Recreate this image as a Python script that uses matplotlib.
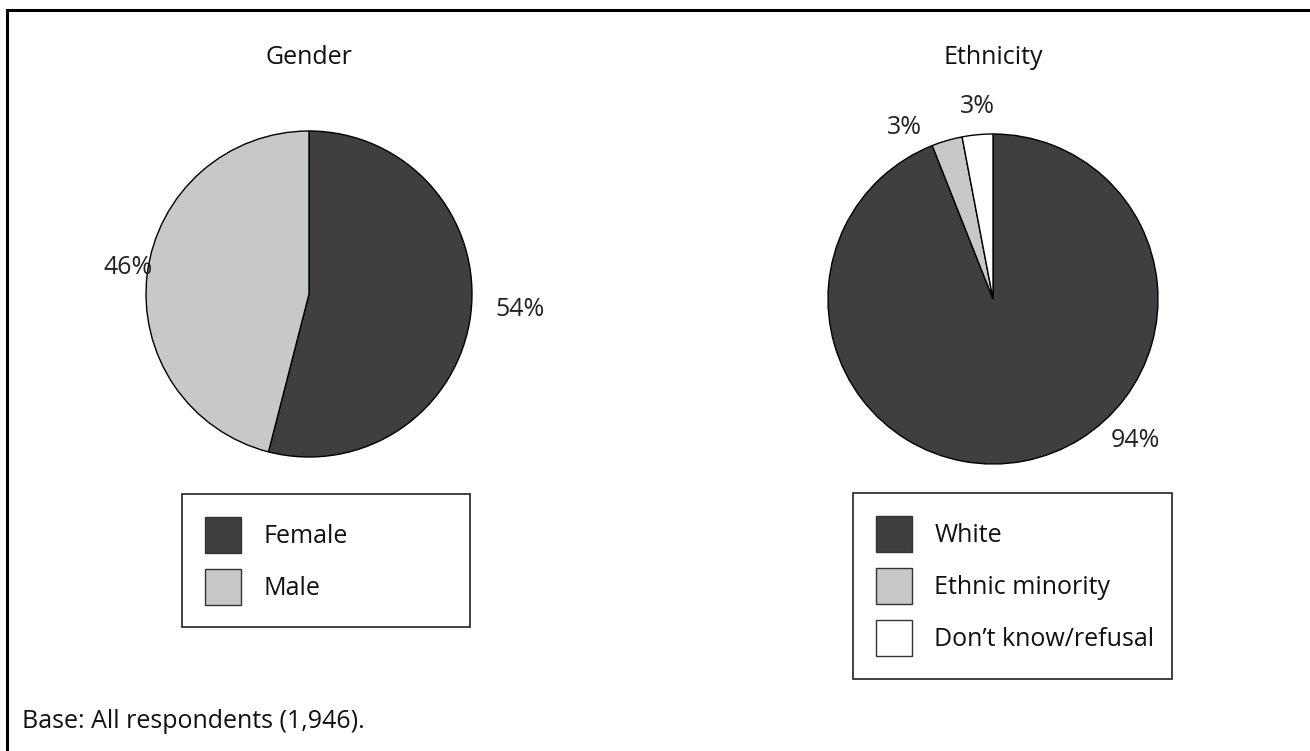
import numpy as np
import matplotlib
matplotlib.use("Agg")
import matplotlib.pyplot as plt
from matplotlib.patches import Rectangle

# survey breakdowns (percent of respondents)
gender_labels = ["Female", "Male"]
gender_values = [54, 46]
ethnicity_labels = ["White", "Ethnic minority", "Don\u2019t know/refusal"]
ethnicity_values = [94, 3, 3]

DARK = "#3f3f41"
LIGHT = "#c7c8ca"
gender_colors = [DARK, LIGHT]
ethnicity_colors = [DARK, LIGHT, "white"]

# where each percentage sits: (angle in degrees, distance in pie radii)
gender_label_pos = [(-4.3, 1.30), (171.8, 1.12)]
ethnicity_label_pos = [(-44.8, 1.22), (117.2, 1.17), (94.5, 1.17)]

plt.rcParams["font.family"] = ["Open Sans", "DejaVu Sans"]
FS = 18

W, H = 1310, 751
fig = plt.figure(figsize=(W / 100, H / 100), dpi=100)


def px_axes(cx, cy, r):
    return fig.add_axes([(cx - r) / W, (H - cy - r) / H, 2 * r / W, 2 * r / H])


def draw_pie(ax, values, colors, label_pos):
    wedges, _ = ax.pie(values, colors=colors, startangle=90, counterclock=False,
                       wedgeprops=dict(edgecolor="black", linewidth=1.0))
    for v, (ang, dist) in zip(values, label_pos):
        a = np.deg2rad(ang)
        ax.text(dist * np.cos(a), dist * np.sin(a), f"{v}%", ha="center",
                va="center", fontsize=FS, color="#222222")
    ax.set_xlim(-1, 1)
    ax.set_ylim(-1, 1)
    ax.set_aspect("equal")
    ax.axis("off")
    return wedges


ax1 = px_axes(309, 294, 163)
w1 = draw_pie(ax1, gender_values, gender_colors, gender_label_pos)
ax2 = px_axes(993, 299, 165)
w2 = draw_pie(ax2, ethnicity_values, ethnicity_colors, ethnicity_label_pos)

fig.text(309 / W, 1 - 58 / H, "Gender", ha="center", va="center", fontsize=FS, color="#111111")
fig.text(993 / W, 1 - 58 / H, "Ethnicity", ha="center", va="center", fontsize=FS, color="#111111")


def make_legend(wedges, labels, x0, x1, ytop):
    leg = fig.legend(wedges, labels, loc="upper left",
                     bbox_to_anchor=(x0 / W, 1 - ytop / H, (x1 - x0) / W, 0.0),
                     mode="expand", fontsize=FS, frameon=True, fancybox=False,
                     handlelength=1.44, handleheight=1.84, handletextpad=0.92,
                     labelspacing=0.65, borderpad=0.9, borderaxespad=0.0)
    fr = leg.get_frame()
    fr.set_edgecolor("black")
    fr.set_linewidth(1.3)
    for h in leg.legend_handles:
        h.set_edgecolor("#333333")
        h.set_linewidth(1.0)
    for t in leg.get_texts():
        t.set_color("#111111")
    return leg


make_legend(w1, gender_labels, 182, 470, 494)
make_legend(w2, ethnicity_labels, 853, 1172, 493)

fig.text(22 / W, 1 - 722 / H, "Base: All respondents (1,946).", ha="left", va="center",
         fontsize=FS, color="#111111")

# outer frame (only top and left edges fall inside the image)
fig.patches.append(Rectangle((7 / W, -0.1), 1.2, 1.1 - 10 / H, transform=fig.transFigure,
                             fill=False, edgecolor="black", linewidth=2.2))

fig.savefig("out.png", dpi=100, facecolor="white")
